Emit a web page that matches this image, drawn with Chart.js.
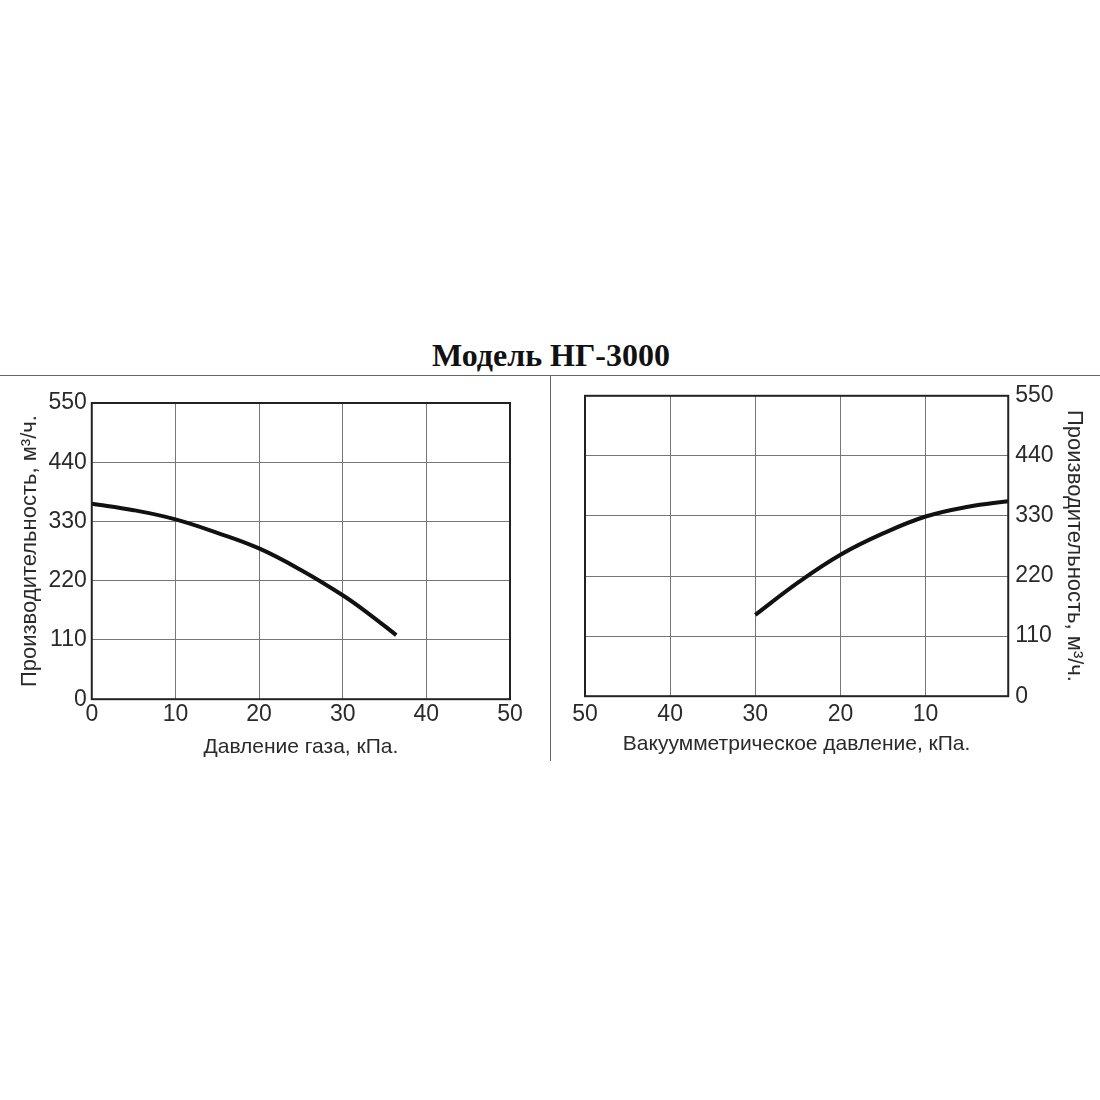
<!DOCTYPE html>
<html>
<head>
<meta charset="utf-8">
<script src="https://cdn.jsdelivr.net/npm/chart.js@4.4.1/dist/chart.umd.min.js"></script>
<style>
  body { margin: 0; background: #fff; }
  #page { position: relative; width: 1100px; height: 1100px; }
  #title {
    position: absolute; left: 0; top: 337px; width: 1102px; text-align: center;
    font-family: 'Liberation Serif', 'Times New Roman', serif; font-weight: bold; font-size: 32px; color: #111;
  }
  #hline { position: absolute; left: 0; top: 375px; width: 1100px; height: 1px; background: #666; }
  #vline { position: absolute; left: 550px; top: 375px; width: 1px; height: 386px; background: #666; }
  .box { position: absolute; height: 390px; }
</style>
</head>
<body>
<div id="page">
  <div id="title">Модель НГ-3000</div>
  <div id="hline"></div>
  <div id="vline"></div>
  <div class="box" style="left:0;top:380px;width:550px"><canvas id="left"></canvas></div>
  <div class="box" style="left:552px;top:375px;width:548px"><canvas id="right"></canvas></div>
</div>
<script>
// values
const gasPressure = [0, 5, 10, 15, 20, 25, 30, 33, 36.4];
const gasFlow = [363, 351, 334, 309, 280, 240, 193, 160, 119];
const vacPressure = [30, 25, 20, 15, 10, 5, 0.3];
const vacFlow = [149, 208, 259, 298, 329, 347, 357];
const flowTicks = [0, 110, 220, 330, 440, 550];
const gasTicks = [0, 10, 20, 30, 40, 50];
const vacTicks = [10, 20, 30, 40, 50];

const FONT = "'Liberation Sans Narrow', 'Arial Narrow', 'Liberation Sans', Arial, sans-serif";
const TEXT = '#2a2a2a';

// frame round the plot area
const frame = {
  id: 'frame',
  afterDraw(chart) {
    const { ctx, chartArea: a } = chart;
    ctx.save();
    ctx.strokeStyle = '#222';
    ctx.lineWidth = 2;
    ctx.strokeRect(a.left, a.top, a.right - a.left, a.bottom - a.top);
    ctx.restore();
  }
};

function makeChart(id, xs, ys, opts) {
  const points = xs.map((x, i) => ({ x, y: ys[i] }));
  return new Chart(document.getElementById(id), {
    type: 'line',
    data: {
      datasets: [{
        data: points,
        borderColor: '#111',
        borderWidth: 4,
        pointRadius: 0,
        tension: 0.4,
        fill: false,
      }],
    },
    options: {
      responsive: true,
      maintainAspectRatio: false,
      animation: false,
      layout: { padding: opts.padding },
      plugins: { legend: { display: false }, tooltip: { enabled: false } },
      scales: {
        x: {
          type: 'linear',
          min: opts.xMin,
          max: 50,
          reverse: opts.reverse,
          afterBuildTicks: (s) => { s.ticks = opts.xTicks.map(v => ({ value: v })); },
          ticks: {
            color: TEXT,
            font: { family: FONT, size: 23 },
            padding: opts.xTickPad,
          },
          grid: { color: '#777', lineWidth: 1, drawTicks: false },
          border: { display: false },
          title: {
            display: true,
            text: opts.xTitle,
            color: TEXT,
            font: { family: FONT, size: 21 },
            padding: { top: opts.xTitlePad, bottom: 0 },
          },
        },
        y: {
          position: opts.yPos,
          min: 0,
          max: 550,
          afterBuildTicks: (s) => { s.ticks = flowTicks.map(v => ({ value: v })); },
          ticks: {
            color: TEXT,
            font: { family: FONT, size: 23 },
            padding: opts.yTickPad,
          },
          grid: { color: '#777', lineWidth: 1, drawTicks: false },
          border: { display: false },
          title: {
            display: true,
            text: 'Производительность, м³/ч.',
            color: TEXT,
            font: { family: FONT, size: 22 },
            padding: opts.yTitlePad,
          },
        },
      },
    },
    plugins: [frame],
  });
}

makeChart('left', gasPressure, gasFlow, {
  reverse: false,
  xMin: 0,
  xTicks: gasTicks,
  yPos: 'left',
  xTitle: 'Давление газа, кПа.',
  xTickPad: 2,
  xTitlePad: 4,
  yTickPad: 5,
  yTitlePad: { top: 0, bottom: 0 },
  padding: { left: 17, right: 40, top: 23, bottom: 10 },
});

makeChart('right', vacPressure, vacFlow, {
  reverse: true,
  xMin: 0.3,
  xTicks: vacTicks,
  yPos: 'right',
  xTitle: 'Вакуумметрическое давление, кПа.',
  xTickPad: 5,
  xTitlePad: -2,
  yTickPad: 7,
  yTitlePad: { top: 1, bottom: 0 },
  padding: { left: 33, right: 12, top: 2, bottom: 8 },
});
</script>
</body>
</html>
